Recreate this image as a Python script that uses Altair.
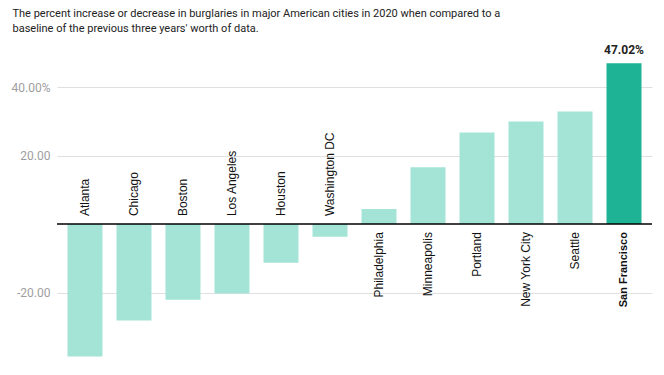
import altair as alt
import pandas as pd

cities = ["Atlanta", "Chicago", "Boston", "Los Angeles", "Houston", "Washington DC",
          "Philadelphia", "Minneapolis", "Portland", "New York City", "Seattle", "San Francisco"]
values = [-38.7, -28.2, -22.1, -20.3, -11.3, -3.7, 4.4, 16.6, 26.8, 30.0, 32.9, 47.02]
highlight = "San Francisco"
tick_values = [-20, 20, 40]
tick_labels = ["-20.00", "20.00", "40.00%"]
title_lines = ["The percent increase or decrease in burglaries in major American cities in 2020 when compared to a",
               "baseline of the previous three years' worth of data."]

df = pd.DataFrame({"city": cities, "value": values})
df["hl"] = df["city"] == highlight

label_expr = " : ".join(
    f"datum.value == {v} ? '{l}'" for v, l in zip(tick_values, tick_labels)
) + " : ''"

x = alt.X("city:N", sort=cities, axis=None,
          scale=alt.Scale(paddingInner=0.286, paddingOuter=0.214))
y = alt.Y("value:Q", scale=alt.Scale(domain=[-40, 50], nice=False, zero=True),
          axis=alt.Axis(values=tick_values, labelExpr=label_expr, title=None,
                        domain=False, ticks=False, labelPadding=7,
                        labelFont="Roboto", labelFontSize=12, labelColor="#9e9e9e",
                        gridColor="#e0e0e0", gridWidth=1))

base = alt.Chart(df)

bars = base.mark_bar().encode(
    x=x, y=y,
    color=alt.Color("hl:N", scale=alt.Scale(domain=[False, True], range=["#a3e4d7", "#1db394"]), legend=None),
)

zero = alt.Chart(pd.DataFrame({"z": [0]})).mark_rule(color="#000000", strokeWidth=1.5).encode(y="z:Q")

neg_labels = base.transform_filter("datum.value < 0").mark_text(
    angle=270, align="left", baseline="middle", dx=8, font="Liberation Sans", fontSize=12, color="#111111"
).encode(x=x, y=alt.datum(0), text="city:N")

pos_labels = base.transform_filter(f"datum.value >= 0 && datum.city != '{highlight}'").mark_text(
    angle=270, align="right", baseline="middle", dx=-8, font="Liberation Sans", fontSize=12, color="#111111"
).encode(x=x, y=alt.datum(0), text="city:N")

hl_label = base.transform_filter(f"datum.city == '{highlight}'").mark_text(
    angle=270, align="right", baseline="middle", dx=-8, font="Liberation Sans", fontSize=11,
    fontWeight="bold", color="#111111"
).encode(x=x, y=alt.datum(0), text="city:N")

val_label = base.transform_filter(f"datum.city == '{highlight}'").transform_calculate(
    txt="format(datum.value, '.2f') + '%'"
).mark_text(baseline="bottom", dy=-6, font="Roboto", fontSize=12, fontWeight="bold", color="#222222"
).encode(x=x, y="value:Q", text="txt:N")

chart = alt.layer(bars, zero, neg_labels, pos_labels, hl_label, val_label).properties(
    width=595, height=308,
    autosize=alt.AutoSizeParams(type="none"),
    padding={"left": 49, "top": 45, "right": 4, "bottom": 6},
    title=alt.TitleParams(text=title_lines, anchor="start", frame="group", dx=-44.5, offset=10.5,
                          font="Roboto", fontSize=11, fontWeight="normal", color="#222222",
                          lineHeight=14.5),
).configure_view(stroke=None)

chart.save("out.html", embed_options={"renderer": "svg", "actions": False})
